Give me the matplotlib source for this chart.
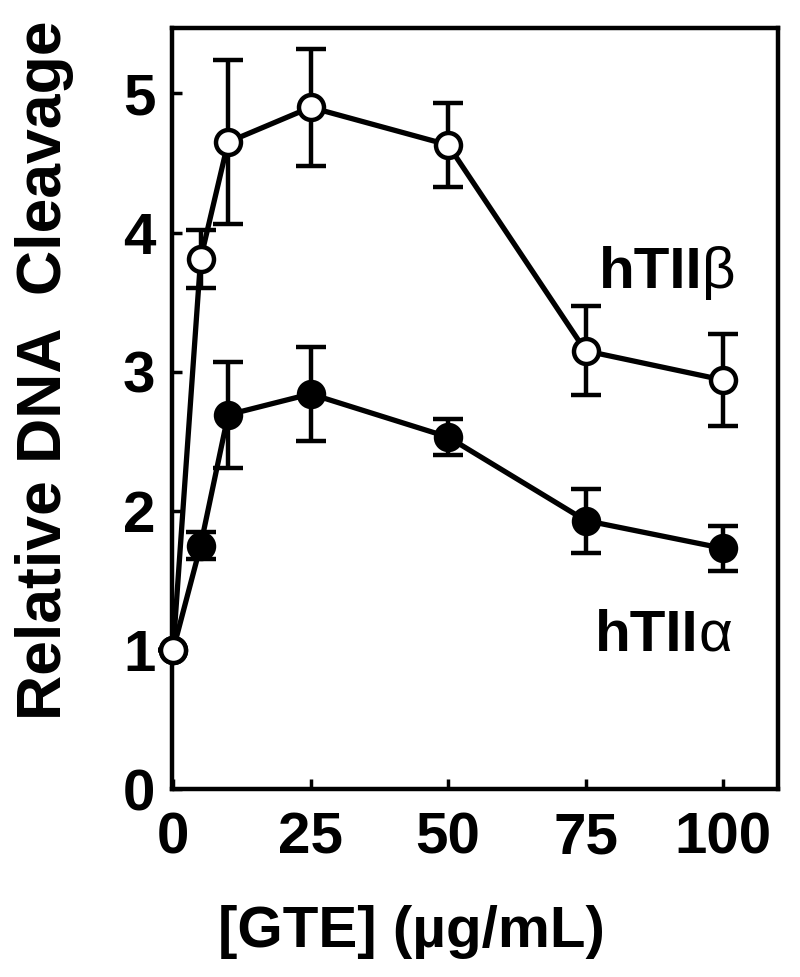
import matplotlib
matplotlib.use('Agg')
import matplotlib.pyplot as plt

plt.rcParams['font.family'] = ['Liberation Sans', 'DejaVu Sans']
plt.rcParams['font.weight'] = 'bold'

gte = [0, 5, 10, 25, 50, 75, 100]

beta_mean = [1.0, 3.81, 4.65, 4.90, 4.63, 3.15, 2.94]
beta_err = [0.0, 0.21, 0.59, 0.42, 0.30, 0.32, 0.33]

alpha_mean = [1.0, 1.75, 2.69, 2.84, 2.53, 1.93, 1.73]
alpha_err = [0.0, 0.10, 0.38, 0.34, 0.13, 0.23, 0.16]

xticks = [0, 25, 50, 75, 100]
yticks = [0, 1, 2, 3, 4, 5]

fig = plt.figure(figsize=[8, 9.77], dpi=100)
ax = fig.add_axes([0.215, 0.1924, 0.7575, 0.7789])

style = dict(color='black', lw=3.8, ms=18, mew=3.2, elinewidth=3.2,
             capsize=10.5, capthick=3.2, clip_on=False)

# hTIIalpha (filled) first, hTIIbeta (open) on top so x=0 shows as open circle
ax.errorbar(gte, alpha_mean, yerr=alpha_err, fmt='-o', mfc='black', mec='black',
            zorder=3, **style)
ax.errorbar(gte, beta_mean, yerr=beta_err, fmt='-o', mfc='white', mec='black',
            zorder=4, **style)

ax.set_xlim(-0.2, 110)
ax.set_ylim(0, 5.47)
ax.set_xticks(xticks)
ax.set_yticks(yticks)

for s in ax.spines.values():
    s.set_linewidth(3.2)

ax.tick_params(direction='in', length=7, width=2.5, labelsize=42)
ax.tick_params(axis='x', pad=16)
ax.tick_params(axis='y', pad=12)
for lab in ax.get_xticklabels() + ax.get_yticklabels():
    lab.set_fontweight('bold')

ax.set_xlabel('[GTE] (µg/mL)', fontsize=42, fontweight='bold')
ax.xaxis.set_label_coords(0.395, -0.152)

fig.text(0.056, 0.621, 'Relative DNA  Cleavage', rotation=90, ha='center', va='center',
         fontsize=45, fontweight='bold')

# series labels
ax.text(96.2, 3.60, 'hTII', fontsize=42, fontweight='bold', ha='right', va='baseline')
ax.text(96.2, 3.60, 'β', fontsize=42, fontweight='normal', ha='left', va='baseline')
ax.text(95.5, 0.99, 'hTII', fontsize=42, fontweight='bold', ha='right', va='baseline')
ax.text(95.5, 0.99, 'α', fontsize=42, fontweight='normal', ha='left', va='baseline')

plt.savefig('out.png', dpi=100)
